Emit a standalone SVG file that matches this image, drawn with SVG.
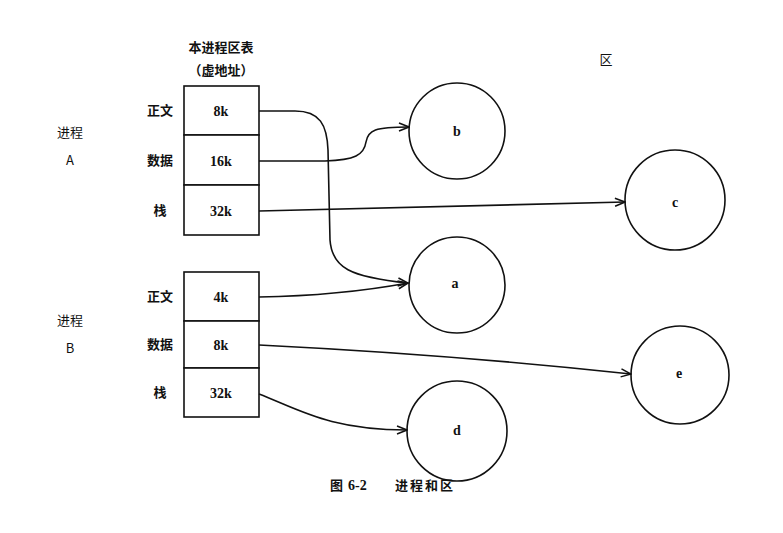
<svg xmlns="http://www.w3.org/2000/svg" width="783" height="533" viewBox="0 0 783 533">
<style>
.cn{font-family:"Noto Sans CJK SC","Liberation Sans",sans-serif;font-size:13px;fill:#111;}
.b{font-weight:bold;}
.lt{font-family:"Liberation Serif",serif;font-size:14px;fill:#111;font-weight:bold;}
.box{fill:#fff;stroke:#111;stroke-width:1.6;}
.node{fill:#fff;stroke:#111;stroke-width:1.6;}
.edge{fill:none;stroke:#111;stroke-width:1.6;}
</style>
<defs>
<marker id="arr" viewBox="0 0 12 10" refX="11" refY="5" markerWidth="12" markerHeight="10" markerUnits="userSpaceOnUse" orient="auto">
<path d="M1,1 L11,5 L1,9" fill="none" stroke="#111" stroke-width="1.5"/>
</marker>
</defs>
<rect width="783" height="533" fill="#fff"/>
<g id="table-title">
<text class="cn b" x="221" y="52" text-anchor="middle">本进程区表</text>
<text class="cn b" x="221" y="75" text-anchor="middle">（虚地址）</text>
</g>
<g id="region-title"><text class="cn" x="606" y="64" text-anchor="middle">区</text></g>
<g id="procA-label">
<text class="cn" x="70" y="137" text-anchor="middle">进程</text>
<text class="cn" x="70" y="165" text-anchor="middle">A</text>
</g>
<g id="procB-label">
<text class="cn" x="70" y="325" text-anchor="middle">进程</text>
<text class="cn" x="70" y="353" text-anchor="middle">B</text>
</g>
<g id="tableA">
<rect class="box" x="184" y="86" width="75" height="49"/>
<rect class="box" x="184" y="135" width="75" height="50"/>
<rect class="box" x="184" y="185" width="75" height="50"/>
<text class="lt" x="221" y="116" text-anchor="middle">8k</text>
<text class="lt" x="221" y="166" text-anchor="middle">16k</text>
<text class="lt" x="221" y="216" text-anchor="middle">32k</text>
<text class="cn b" x="160" y="115" text-anchor="middle">正文</text>
<text class="cn b" x="160" y="165" text-anchor="middle">数据</text>
<text class="cn b" x="160" y="215" text-anchor="middle">栈</text>
</g>
<g id="tableB">
<rect class="box" x="184" y="272" width="75" height="49"/>
<rect class="box" x="184" y="321" width="75" height="47"/>
<rect class="box" x="184" y="368" width="75" height="49"/>
<text class="lt" x="221" y="302" text-anchor="middle">4k</text>
<text class="lt" x="221" y="350" text-anchor="middle">8k</text>
<text class="lt" x="221" y="398" text-anchor="middle">32k</text>
<text class="cn b" x="160" y="301" text-anchor="middle">正文</text>
<text class="cn b" x="160" y="349" text-anchor="middle">数据</text>
<text class="cn b" x="160" y="397" text-anchor="middle">栈</text>
</g>
<g id="node-b"><circle class="node" cx="457" cy="131" r="48"/><text class="lt" x="457" y="136" text-anchor="middle">b</text></g>
<g id="node-a"><circle class="node" cx="457" cy="285" r="48"/><text class="lt" x="455" y="288" text-anchor="middle">a</text></g>
<g id="node-c"><circle class="node" cx="675" cy="200" r="50"/><text class="lt" x="675" y="207" text-anchor="middle">c</text></g>
<g id="node-e"><circle class="node" cx="680" cy="375" r="49"/><text class="lt" x="679" y="378" text-anchor="middle">e</text></g>
<g id="node-d"><circle class="node" cx="457" cy="431" r="50"/><text class="lt" x="457" y="435" text-anchor="middle">d</text></g>
<g id="connectors">
<path class="edge" marker-end="url(#arr)" d="M259,111 L295,111 C320,111 327,125 328,150 L330,240 C332,268 350,277 408,283"/>
<path class="edge" marker-end="url(#arr)" d="M259,161 L325,161 C355,160 364,155 366,142 C368,130 375,127 409,127"/>
<path class="edge" marker-end="url(#arr)" d="M259,211 L625,202"/>
<path class="edge" marker-end="url(#arr)" d="M259,297 C320,296 370,290 408,283"/>
<path class="edge" marker-end="url(#arr)" d="M259,345 C400,352 520,362 631,374"/>
<path class="edge" marker-end="url(#arr)" d="M259,394 C300,410 330,430 407,430"/>
</g>
<g id="caption">
<text class="cn b" x="330" y="490">图</text>
<text class="lt" x="348" y="490">6-2</text>
<text class="cn b" x="395" y="490" letter-spacing="2">进程和区</text>
</g>
</svg>
